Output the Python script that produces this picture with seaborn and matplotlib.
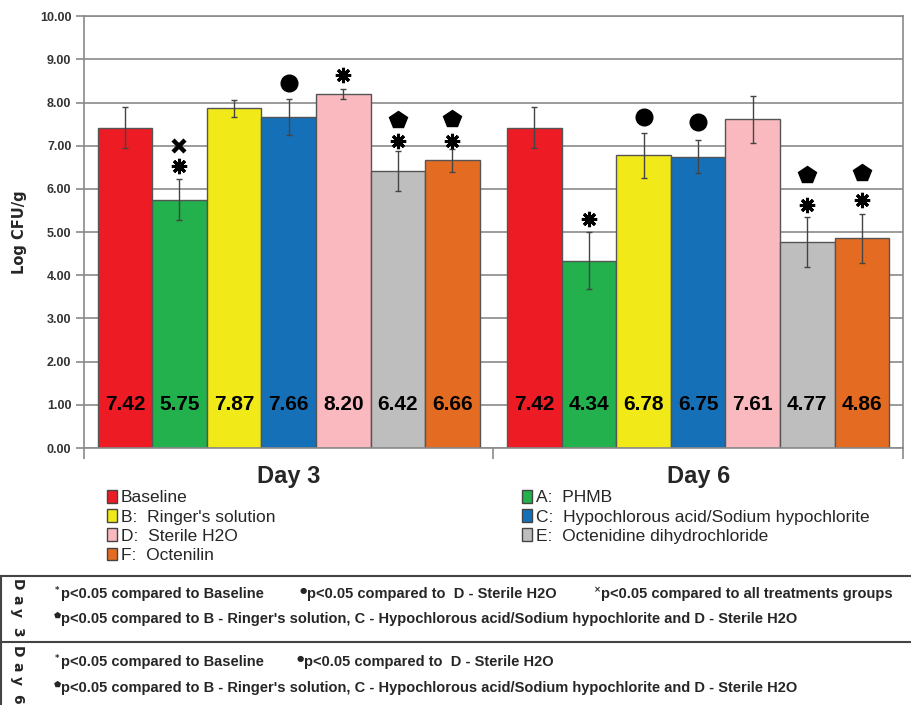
import numpy as np
import pandas as pd
import seaborn as sns
import matplotlib.pyplot as plt
from matplotlib.patches import Patch, Rectangle
from matplotlib.lines import Line2D

# data
days = ['Day 3', 'Day 6']
treatments = ['Baseline', 'A:  PHMB', "B:  Ringer's solution",
              'C:  Hypochlorous acid/Sodium hypochlorite', 'D:  Sterile H2O',
              'E:  Octenidine dihydrochloride', 'F:  Octenilin']
day3_vals = [7.42, 5.75, 7.87, 7.66, 8.20, 6.42, 6.66]
day6_vals = [7.42, 4.34, 6.78, 6.75, 7.61, 4.77, 4.86]
day3_err = [0.48, 0.47, 0.20, 0.42, 0.12, 0.47, 0.26]
day6_err = [0.48, 0.66, 0.52, 0.39, 0.54, 0.58, 0.57]
colors = ['#ed1c24', '#22b14c', '#f2e918', '#1570b8', '#f9b9bf', '#bebebe', '#e46c22']

# significance markers: (day, treatment index, y, kind)
sig_marks = [
    (0, 1, 6.53, 'ast'), (0, 1, 6.99, 'x'), (0, 3, 8.45, 'dot'), (0, 4, 8.65, 'ast'),
    (0, 5, 7.10, 'ast'), (0, 5, 7.60, 'pent'), (0, 6, 7.12, 'ast'), (0, 6, 7.62, 'pent'),
    (1, 1, 5.30, 'ast'), (1, 2, 7.67, 'dot'), (1, 3, 7.55, 'dot'),
    (1, 5, 5.62, 'ast'), (1, 5, 6.33, 'pent'), (1, 6, 5.74, 'ast'), (1, 6, 6.37, 'pent'),
]

df = pd.DataFrame({
    'day': np.repeat(days, len(treatments)),
    'treatment': treatments * 2,
    'value': day3_vals + day6_vals,
    'err': day3_err + day6_err,
})

sns.set_style('white')
plt.rcParams['font.family'] = ['Liberation Sans', 'DejaVu Sans']

fig = plt.figure(figsize=(9.12, 7.05), dpi=100)
ax = fig.add_axes([0.092, 0.3645, 0.898, 0.6125])

sns.barplot(data=df, x='day', y='value', hue='treatment', hue_order=treatments,
            palette=colors, saturation=1, width=0.933, edgecolor='#555555', linewidth=1,
            errorbar=None, legend=False, ax=ax, zorder=2)

bars = [p for p in ax.patches if isinstance(p, Rectangle)][:len(df)]
# seaborn draws bars hue by hue
centers = {}
for i, p in enumerate(bars):
    h = i // len(days)
    d = i % len(days)
    centers[(d, h)] = p.get_x() + p.get_width() / 2

for d, day in enumerate(days):
    sub = df[df['day'] == day].reset_index(drop=True)
    for h in range(len(treatments)):
        x = centers[(d, h)]
        ax.errorbar(x, sub.loc[h, 'value'], yerr=sub.loc[h, 'err'], fmt='none',
                    ecolor='#444444', elinewidth=1, capsize=2.5, capthick=1, zorder=3)
        ax.text(x, 1.0, f"{sub.loc[h, 'value']:.2f}", ha='center', va='center',
                fontsize=15, fontweight='bold', color='black', zorder=4)

for d, h, y, kind in sig_marks:
    x = centers[(d, h)]
    if kind == 'ast':
        ax.plot(x, y, marker=(8, 2, 0), ms=11, mew=2.2, color='black', zorder=4)
    elif kind == 'dot':
        ax.plot(x, y, marker='o', ms=12, color='black', zorder=4)
    elif kind == 'pent':
        ax.plot(x, y, marker='p', ms=13, color='black', zorder=4)
    else:
        ax.plot(x, y, marker='x', ms=8, mew=3.2, color='black', zorder=4)

ax.set_ylim(0, 10)
ax.set_xlim(-0.5, 1.5)
ax.set_yticks(np.arange(0, 10.01, 1))
ax.set_yticklabels([f'{v:.2f}' for v in np.arange(0, 10.01, 1)],
                   fontsize=9, fontweight='bold', color='#333333')
ax.yaxis.grid(True, color='#8a8a8a', linewidth=1.2, zorder=0)
ax.set_axisbelow(True)
ax.tick_params(axis='y', length=6, color='#8a8a8a', width=1.2, direction='out', left=True, pad=3)
ax.set_xticks([0, 1])
ax.set_xticklabels(days, fontsize=17, fontweight='bold')
ax.tick_params(axis='x', length=0, pad=12)
ax.set_xticks([-0.5, 0.5, 1.5], minor=True)
ax.tick_params(axis='x', which='minor', length=8, color='#8a8a8a', width=1.2, bottom=True)
for s in ax.spines.values():
    s.set_color('#8a8a8a')
    s.set_linewidth(1.2)
ax.set_xlabel('')
ax.set_ylabel('Log CFU/g', fontsize=10.5, fontweight='bold', family='DejaVu Sans', labelpad=9)

# legend below the chart, column-wise order
order = [0, 2, 4, 6, 1, 3, 5]
handles = [Patch(facecolor=colors[i], edgecolor='#444444', label=treatments[i]) for i in order]
leg = fig.legend(handles=handles, ncol=2, loc='upper left', bbox_to_anchor=(0.117, 0.305),
                 frameon=False, fontsize=12.5, handlelength=0.6, handleheight=0.75,
                 handletextpad=0.2, labelspacing=0.22, columnspacing=14.2,
                 borderaxespad=0, borderpad=0)

# notes box
line_kw = dict(color='#444444', linewidth=1.5, transform=fig.transFigure)
y_top, y_mid = 1 - 576 / 705, 1 - 642 / 705
fig.add_artist(Line2D([0, 1], [y_top, y_top], **line_kw))
fig.add_artist(Line2D([0, 1], [y_mid, y_mid], **line_kw))
fig.add_artist(Line2D([0.001, 0.001], [0, y_top], **line_kw))

def px(x, y):
    return x / 912, 1 - y / 705

for lbl, ys in [('Day3', [585, 600, 613, 632]), ('Day6', [652, 667, 680, 699])]:
    chars = ['D', 'a', 'y', lbl[-1]]
    for c, yy in zip(chars, ys):
        fig.text(*px(17, yy), c, rotation=270, ha='center', va='center',
                 fontsize=10, fontweight='bold', family='DejaVu Sans')

note_fs = 10.5
notes = [
    (57, 594, '*', 'p<0.05 compared to Baseline'),
    (303, 594, '\u25cf', 'p<0.05 compared to  D - Sterile H2O'),
    (597, 594, '\u00d7', 'p<0.05 compared to all treatments groups'),
    (57, 619, '\u2b1f', "p<0.05 compared to B - Ringer's solution, C - Hypochlorous acid/Sodium hypochlorite and D - Sterile H2O"),
    (57, 662, '*', 'p<0.05 compared to Baseline'),
    (300, 662, '\u25cf', 'p<0.05 compared to  D - Sterile H2O'),
    (57, 688, '\u2b1f', "p<0.05 compared to B - Ringer's solution, C - Hypochlorous acid/Sodium hypochlorite and D - Sterile H2O"),
]
for x, y, sym, txt in notes:
    fig.text(*px(x, y - 4), sym, ha='center', va='center', fontsize=6, fontweight='bold',
             family='DejaVu Sans')
    fig.text(*px(x + 4, y), txt, ha='left', va='center', fontsize=note_fs, fontweight='bold')

fig.savefig('out.png', dpi=100)
